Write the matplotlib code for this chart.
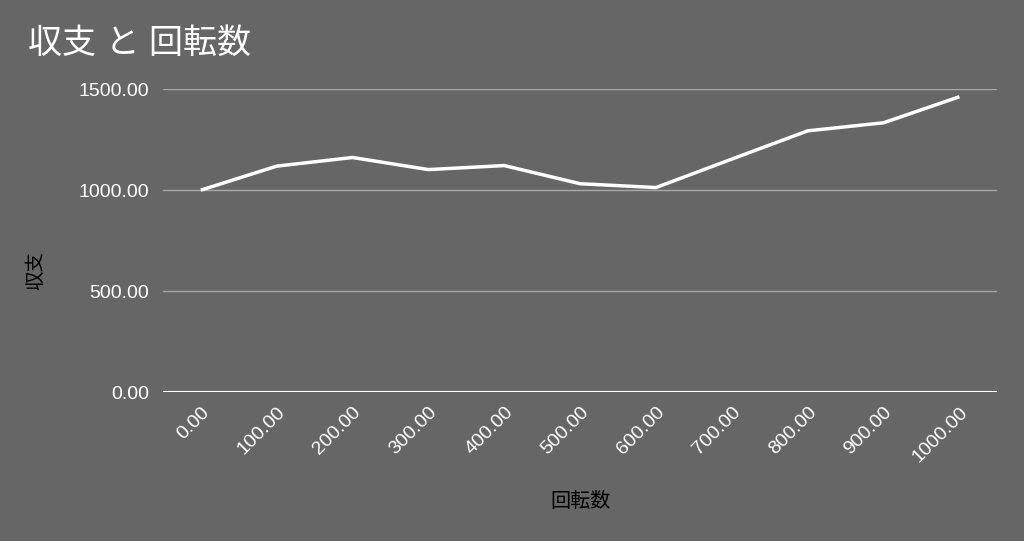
import matplotlib.pyplot as plt

# data
spins = [0, 100, 200, 300, 400, 500, 600, 700, 800, 900, 1000]
balance = [1000, 1119, 1162, 1102, 1122, 1032, 1013, 1154, 1294, 1334, 1463]
y_ticks = [0, 500, 1000, 1500]

plt.rcParams["font.family"] = ["Liberation Sans", "Noto Sans CJK JP", "DejaVu Sans"]

bg = "#666666"
fig = plt.figure(figsize=(10.24, 5.41), dpi=100, facecolor=bg)
ax = fig.add_axes([0.159, 0.2754, 0.815, 0.5596])
ax.set_facecolor(bg)

ax.plot(spins, balance, color="white", linewidth=2.5, solid_capstyle="butt", zorder=3)

ax.set_xlim(-50, 1050)
ax.set_ylim(0, 1500)
ax.set_yticks(y_ticks)
ax.set_yticklabels([f"{v:.2f}" for v in y_ticks])
ax.set_xticks(spins)
ax.set_xticklabels([f"{v:.2f}" for v in spins], rotation=45, ha="right",
                   va="top", rotation_mode="anchor")

for v in y_ticks[1:]:
    ax.axhline(v, color="#a8a8a8", linewidth=1, zorder=1)
ax.axhline(0, color="white", linewidth=1.5, zorder=2)

for s in ax.spines.values():
    s.set_visible(False)
ax.tick_params(axis="both", length=0, colors="white")
ax.tick_params(axis="y", pad=10, labelsize=14)
ax.tick_params(axis="x", pad=8.5, labelsize=14)

ax.set_xlabel("回転数", color="black", fontsize=14.5)
ax.set_ylabel("収支", color="black", fontsize=14)
ax.xaxis.set_label_coords(0.5, -0.363)
ax.xaxis.label.set_va("center")
ax.yaxis.set_label_coords(-0.152, 0.40)
ax.yaxis.label.set_va("center")

fig.text(0.027, 0.918, "収支 と 回転数", color="white", fontsize=24.5, va="center")

fig.savefig("out.png", dpi=100, facecolor=bg)
